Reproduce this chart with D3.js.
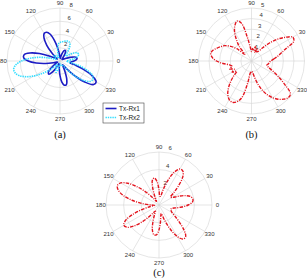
<!DOCTYPE html>
<html><head><meta charset="utf-8">
<script src="https://cdn.jsdelivr.net/npm/d3@7"></script>
<style>
html,body{margin:0;padding:0;background:#fff;}
svg{display:block;}
</style></head><body>
<svg id="chart" width="307" height="278"></svg>
<script>
// ---------- data ----------
const angles = [0,5,10,15,20,25,30,35,40,45,50,55,60,65,70,75,80,85,90,95,100,105,110,115,120,125,130,135,140,145,150,155,160,165,170,175,180,185,190,195,200,205,210,215,220,225,230,235,240,245,250,255,260,265,270,275,280,285,290,295,300,305,310,315,320,325,330,335,340,345,350,355];

// panel (a)
const rx1 = [2.1,2.5,2.6,2.3,1.6,0.9,0.5,0.4,0.4,0.5,0.8,1.3,1.7,1.8,1.6,1.1,0.6,0.4,0.5,1.0,2.0,3.2,4.3,4.8,4.8,4.2,3.1,1.8,0.8,0.5,0.8,1.8,3.3,4.7,5.5,5.5,4.8,3.6,2.2,1.0,0.5,0.4,0.6,1.2,2.0,2.5,2.6,2.1,1.3,0.6,0.4,0.4,0.6,1.2,2.2,3.2,3.7,3.7,3.0,1.8,0.9,0.7,1.5,3.2,5.0,6.2,6.3,5.4,3.9,2.4,1.5,1.7];
const rx2 = [1.0,1.5,2.2,2.8,3.0,2.9,2.4,1.7,1.2,1.2,1.8,2.5,3.0,3.2,3.2,3.1,3.0,2.9,2.8,2.6,2.0,1.3,0.7,0.5,0.5,0.7,1.0,1.2,1.2,1.0,0.7,0.6,0.9,1.8,3.2,4.6,5.8,6.7,7.1,7.0,6.5,5.6,4.5,3.3,2.2,1.3,0.7,0.6,0.9,1.5,1.8,1.6,1.0,0.5,0.4,0.4,0.5,0.7,0.8,0.8,0.8,1.0,1.8,3.2,4.5,5.4,5.7,5.5,4.6,3.3,2.0,1.2];
// panel (b)
const gainB = [1.8,2.1,2.5,2.9,3.5,4.4,4.5,3.9,3.2,2.4,1.6,1.1,1.0,1.3,0.9,1.4,1.0,1.2,0.9,1.3,2.3,3.7,4.0,3.7,3.2,2.5,1.8,0.9,1.8,2.4,2.9,3.2,3.5,3.8,3.9,3.7,3.3,2.7,2.1,1.9,2.2,1.8,2.1,1.7,2.2,2.8,3.4,3.9,4.2,4.3,4.1,3.6,2.2,1.1,1.0,1.1,1.5,2.2,2.9,3.5,4.0,4.4,4.7,4.9,4.8,3.8,2.9,2.2,1.7,1.5,1.6,1.7];
// panel (c)
const gainC = [3.3,3.8,3.9,3.7,3.1,2.3,1.7,1.6,2.2,3.2,4.2,4.7,4.7,4.1,3.0,1.8,1.0,1.0,1.7,2.7,3.1,2.9,2.1,1.2,0.6,0.5,1.0,2.0,3.2,4.3,5.0,5.2,4.9,4.2,3.1,1.9,0.9,0.5,1.0,2.0,3.2,4.2,4.6,4.4,3.7,2.7,1.7,1.0,0.8,1.2,2.0,2.9,3.4,3.4,2.8,1.9,1.2,1.0,1.8,3.0,4.1,4.7,4.7,4.0,3.0,2.2,1.7,1.5,1.4,1.5,1.9,2.6];

const angleTicks = [0,30,60,90,120,150,180,210,240,270,300,330];
const ringTicksA = [2,4,6,8];
const ringTicksB = [1,2,3,4,5];
const ringTicksC = [2,4,6];
const legendLabels = ["Tx-Rx1","Tx-Rx2"];
const captions = ["(a)","(b)","(c)"];

// ---------- drawing ----------
const svg = d3.select("#chart");
const rad = d => d * Math.PI / 180;
const gridColor = "#d4d4d4";
const labelFont = "'Liberation Sans', Arial, sans-serif";

const panels = [
  {cx:60, cy:61, R:53, max:8, rings:ringTicksA, caption:captions[0], capY:134,
   series:[{v:rx1, color:"#1c1cc4", dash:null, w:1.6},{v:rx2, color:"#33ddff", dash:"1.4,0.9", w:1.6}]},
  {cx:251.5, cy:61, R:53, max:5, rings:ringTicksB, caption:captions[1], capY:134,
   series:[{v:gainB, color:"#e3141e", dash:"3.5,1.2,1,1.2", w:1.4}]},
  {cx:159, cy:205, R:53, max:6, rings:ringTicksC, caption:captions[2], capY:272,
   series:[{v:gainC, color:"#e3141e", dash:"3.5,1.2,1,1.2", w:1.4}]}
];

panels.forEach(p => {
  const g = svg.append("g").attr("transform", `translate(${p.cx},${p.cy})`);
  const r = d3.scaleLinear().domain([0, p.max]).range([0, p.R]);
  // circles
  g.selectAll("circle.ring").data(p.rings).join("circle")
    .attr("r", d => r(d)).attr("fill", "none")
    .attr("stroke", gridColor).attr("stroke-width", 0.6);
  // spokes
  g.selectAll("line.spoke").data(angleTicks.slice(0, 6)).join("line")
    .attr("x1", d => -r(p.max) * Math.cos(rad(d)))
    .attr("y1", d => r(p.max) * Math.sin(rad(d)))
    .attr("x2", d => r(p.max) * Math.cos(rad(d)))
    .attr("y2", d => -r(p.max) * Math.sin(rad(d)))
    .attr("stroke", gridColor).attr("stroke-width", 0.6);
  // angle labels
  g.selectAll("text.ang").data(angleTicks).join("text")
    .attr("x", d => 1.1 * r(p.max) * Math.cos(rad(d)))
    .attr("y", d => -1.1 * r(p.max) * Math.sin(rad(d)))
    .attr("text-anchor", "middle").attr("dominant-baseline", "central")
    .attr("font-family", labelFont).attr("font-size", 6).attr("fill", "#333")
    .text(d => d);
  // ring labels
  const step = p.rings[1] - p.rings[0];
  g.selectAll("text.ring").data(p.rings).join("text")
    .attr("x", d => r(d + step / 20) * Math.cos(rad(82)) + 2)
    .attr("y", d => -r(d + step / 20) * Math.sin(rad(82)) - 1.2)
    .attr("text-anchor", "start")
    .attr("font-family", labelFont).attr("font-size", 6).attr("fill", "#333")
    .text(d => d);
  // curves
  const line = d3.lineRadial()
    .angle((d, i) => rad(90 - angles[i]))
    .radius(d => r(d))
    .curve(d3.curveCatmullRomClosed.alpha(0.5));
  p.series.forEach(s => {
    g.append("path").attr("d", line(s.v))
      .attr("fill", "none").attr("stroke", s.color)
      .attr("stroke-width", s.w)
      .attr("stroke-dasharray", s.dash)
      .attr("stroke-linejoin", "round");
  });
  // caption
  svg.append("text").attr("x", p.cx).attr("y", p.capY)
    .attr("text-anchor", "middle").attr("dominant-baseline", "central")
    .attr("font-family", "'Liberation Serif', 'Times New Roman', serif")
    .attr("font-size", 10.5).attr("fill", "#111")
    .text(p.caption);
});

// legend for panel (a)
const lg = svg.append("g").attr("transform", "translate(103,103)");
lg.append("rect").attr("width", 41).attr("height", 20)
  .attr("fill", "#fff").attr("stroke", "#444").attr("stroke-width", 0.6);
const legSeries = panels[0].series;
legendLabels.forEach((lab, i) => {
  const y = 5.5 + i * 9;
  lg.append("line").attr("x1", 2.5).attr("x2", 13.5).attr("y1", y).attr("y2", y)
    .attr("stroke", legSeries[i].color).attr("stroke-width", legSeries[i].w)
    .attr("stroke-dasharray", legSeries[i].dash);
  lg.append("text").attr("x", 16).attr("y", y)
    .attr("dominant-baseline", "central")
    .attr("font-family", labelFont).attr("font-size", 6.5).attr("fill", "#222")
    .text(lab);
});
</script>
</body></html>
